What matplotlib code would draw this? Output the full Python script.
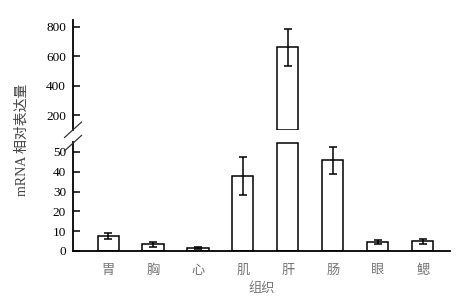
import numpy as np
import matplotlib
matplotlib.use('Agg')
import matplotlib.pyplot as plt
from matplotlib.lines import Line2D

plt.rcParams['font.family'] = ['Liberation Serif', 'Noto Sans CJK SC']

## Data
tissues = ['胃', '胸', '心', '肌', '肝', '肠', '眼', '鳃']
expr = [7.4, 3.4, 1.4, 37.9, 661, 45.7, 4.4, 4.9]
err = [1.6, 1.2, 0.4, 9.5, 125, 6.8, 1.0, 1.3]

low_lim = (0, 55)
up_lim = (98, 845)
low_ticks = [0, 10, 20, 30, 40, 50]
up_ticks = [200, 400, 600, 800]

x = np.arange(len(tissues))
vals = np.array(expr)
errs = np.array(err)

fig = plt.figure(figsize=(4.72, 2.97), dpi=100)
ax_up = fig.add_axes([0.1547, 0.561, 0.798, 0.372])
ax_lo = fig.add_axes([0.1547, 0.155, 0.798, 0.367])

bar_kw = dict(width=0.47, color='white', edgecolor='black', linewidth=1.1)
err_kw = dict(fmt='none', ecolor='black', elinewidth=1.1, capsize=3, capthick=1.1)

# lower part, tall bars stop just under the break
h_lo = np.minimum(vals, low_lim[1] - 0.6)
ax_lo.bar(x, h_lo, **bar_kw)
m = vals < low_lim[1]
ax_lo.errorbar(x[m], vals[m], yerr=errs[m], **err_kw)
ax_lo.set_ylim(*low_lim)
ax_lo.set_yticks(low_ticks)

# upper part
big = vals > up_lim[0]
base = up_lim[0] + 2
ax_up.bar(x[big], vals[big] - base, bottom=base, **bar_kw)
ax_up.errorbar(x[big], vals[big], yerr=errs[big], **err_kw)
ax_up.set_ylim(*up_lim)
ax_up.set_yticks(up_ticks)

for ax in (ax_up, ax_lo):
    ax.set_xlim(-0.78, 7.6)
    for s in ['top', 'right']:
        ax.spines[s].set_visible(False)
    ax.spines['left'].set_linewidth(1.3)
    ax.tick_params(axis='y', direction='in', length=5, width=1.1, labelsize=9.5, pad=5)
    ax.tick_params(axis='x', length=0)

ax_up.spines['bottom'].set_visible(False)
ax_up.set_xticks([])
ax_lo.spines['bottom'].set_linewidth(1.3)
ax_lo.set_xticks(x)
ax_lo.set_xticklabels(tissues, fontsize=9.5, color='#777777')
ax_lo.tick_params(axis='x', pad=10)
ax_lo.set_xlabel('组织', fontsize=9.5, color='#777777', labelpad=3)

fig.text(0.047, 0.53, 'mRNA 相对表达量', rotation=90, ha='center', va='center',
         fontsize=10, color='#444444')

# break marks
sx = 0.1547
for yc in (0.563, 0.518):
    fig.add_artist(Line2D([sx - 0.018, sx + 0.018], [yc - 0.026, yc + 0.026],
                          color='#333333', linewidth=0.9, transform=fig.transFigure))

fig.savefig('out.png', dpi=100)
